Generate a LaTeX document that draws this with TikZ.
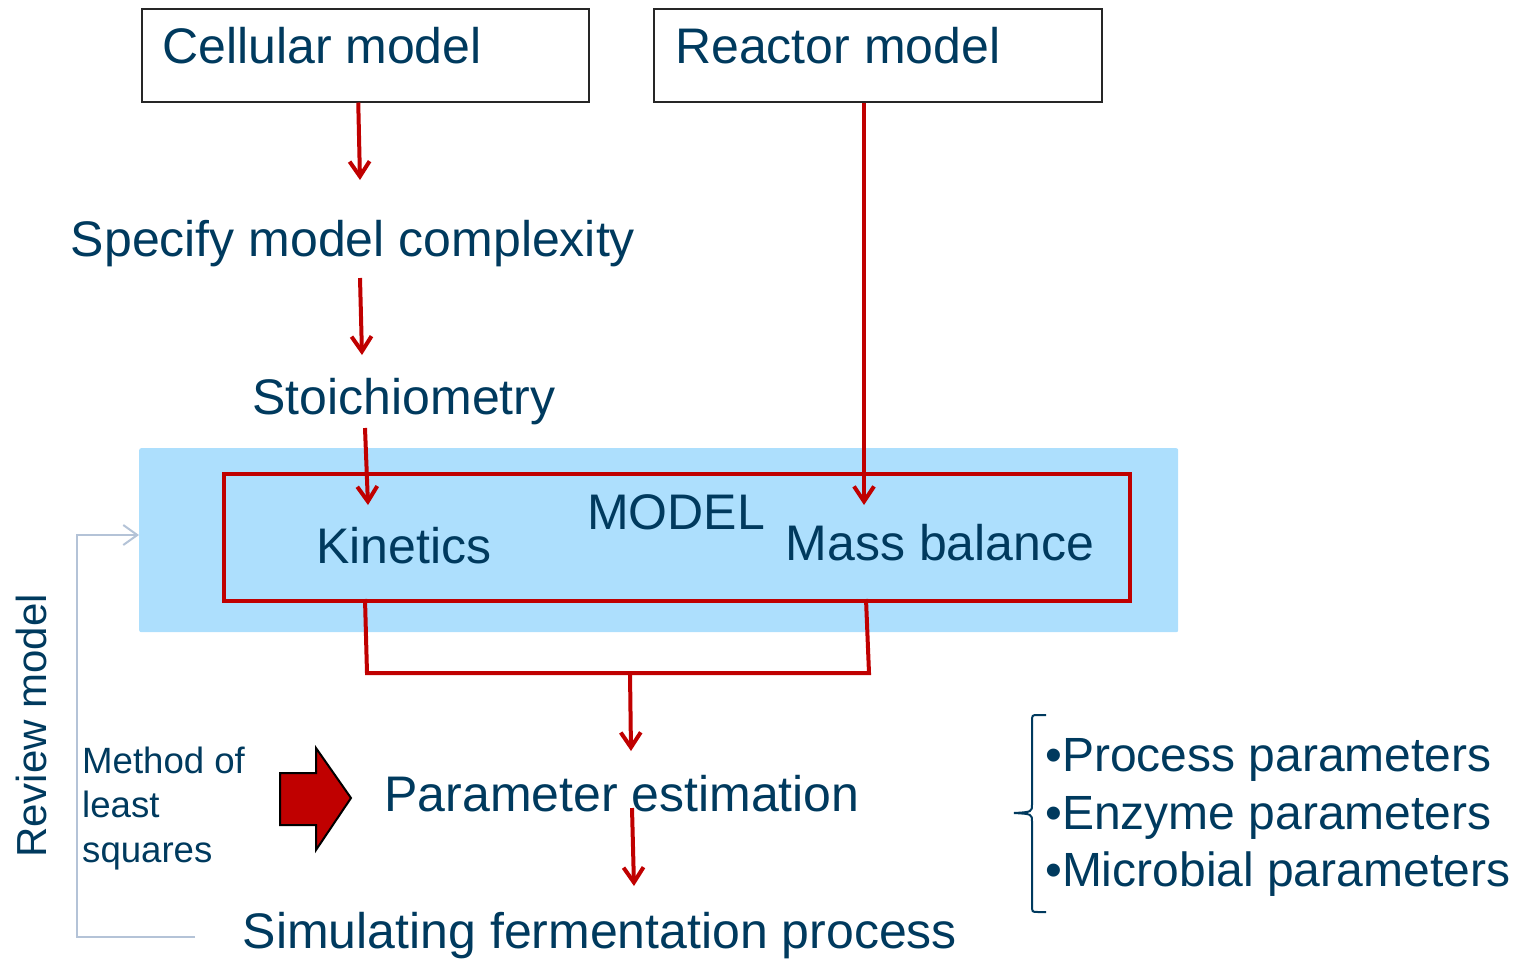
\documentclass[tikz,border=0pt]{standalone}
\usepackage{fontspec}
\setmainfont{Liberation Sans}
\usetikzlibrary{arrows.meta, positioning}
\definecolor{txtblue}{RGB}{0,58,94}
\definecolor{arrred}{RGB}{192,0,0}
\definecolor{modelblue}{RGB}{173,223,253}
\definecolor{loopgray}{RGB}{180,195,215}

\begin{document}
\begin{tikzpicture}[x=1pt, y=-1pt,
        txt/.style={inner sep=0pt, text=txtblue, font=\fontsize{50}{60}\selectfont},
        small/.style={inner sep=0pt, text=txtblue, font=\fontsize{36.6}{44}\selectfont},
        bullet/.style={inner sep=0pt, text=txtblue, font=\fontsize{48}{58}\selectfont},
        box/.style={draw=black!85, line width=1.5pt, anchor=north west, inner sep=0pt},
        flow/.style={draw=arrred, line width=4pt, -{Straight Barb[length=15pt,width=20pt]}},
        redline/.style={draw=arrred, line width=4pt},
        fb/.style={draw=loopgray, line width=2pt}
    ]
        \useasboundingbox (0,0) rectangle (1526,959);

        % Modelos de partida
        \node[box, minimum width=447pt, minimum height=93pt] (cell) at (141,8) {};
        \node[box, minimum width=448pt, minimum height=93pt] (reac) at (653,8) {};
        \node[txt, anchor=base west] (cellT) at (162,63) {Cellular model};
        \node[txt, anchor=base west] (reacT) at (675,63) {Reactor model};

        \node[txt, anchor=base] (spec) at (353,256) {Specify model complexity};
        \node[txt, anchor=base] (stoi) at (404,414) {Stoichiometry};

        % Bloque MODEL
        \node[fill=modelblue, rounded corners=2pt, anchor=north west,
              minimum width=1039pt, minimum height=184pt] (bg) at (139,448) {};
        \node[draw=arrred, line width=4pt, anchor=north west,
              minimum width=906pt, minimum height=127pt] (model) at (222,472) {};
        \node[txt, anchor=base] (kin) at (404,563) {Kinetics};
        \node[txt, anchor=base] (mod) at (676,529) {MODEL};
        \node[txt, anchor=base] (mass) at (940,560) {Mass balance};

        \node[txt, anchor=base] (par) at (622,811) {Parameter estimation};
        \node[txt, anchor=base] (sim) at (600,948) {Simulating fermentation process};

        % Puntos auxiliares
        \coordinate (a1) at (360,180);
        \coordinate (a2) at (362,355);
        \coordinate (a3) at (368,505);
        \coordinate (a4) at (864,505);
        \coordinate (jl) at (367,673);
        \coordinate (jr) at (869,673);
        \coordinate (jm) at (630,673);
        \coordinate (a5) at (631,751);
        \coordinate (a6) at (634,886);

        % Flechas
        \draw[flow] ([xshift=-7pt]cell.south) -- (a1);
        \draw[flow] (360,278) -- (a2);
        \draw[flow] (365,428) -- (a3);
        \draw[flow] (reac.south -| a4) -- (a4);
        \draw[redline] (365,599) -- (jl) -- (jr) -- (866,599);
        \draw[flow] (jm) -- (a5);
        \draw[flow] (632,808) -- (a6);

        % Revision del modelo
        \draw[fb, -{Straight Barb[length=14pt,width=20pt]}]
            (195,937) -- (77,937) -- (77,535) -- (bg.west |- 0,535);
        \node[inner sep=0pt, text=txtblue, font=\fontsize{42}{50}\selectfont,
              rotate=90, anchor=center] (rev) at (31,726) {Review model};

        % Minimos cuadrados
        \node[small, anchor=base west] (m1) at (82,773) {Method of};
        \node[small, anchor=base west] (m2) at (82,817) {least};
        \node[small, anchor=base west] (m3) at (82,862) {squares};
        \draw[fill=arrred, draw=black, line width=2pt, line join=miter]
            (280,773) -- (316,773) -- (316,748) -- (351,798) -- (316,850)
            -- (316,825) -- (280,825) -- cycle;

        % Parametros
        \draw[txtblue, line width=2pt]
            (1046,715) -- (1038,715) .. controls (1032,715) .. (1032,722)
            -- (1032,804) .. controls (1032,812) .. (1014,813)
            .. controls (1032,814) .. (1032,822)
            -- (1032,905) .. controls (1032,912) .. (1038,912) -- (1046,912);
        \node[bullet, anchor=base west] (p1) at (1045,771) {•Process parameters};
        \node[bullet, anchor=base west] (p2) at (1045,829) {•Enzyme parameters};
        \node[bullet, anchor=base west] (p3) at (1045,886) {•Microbial parameters};
    \end{tikzpicture}
\end{document}
